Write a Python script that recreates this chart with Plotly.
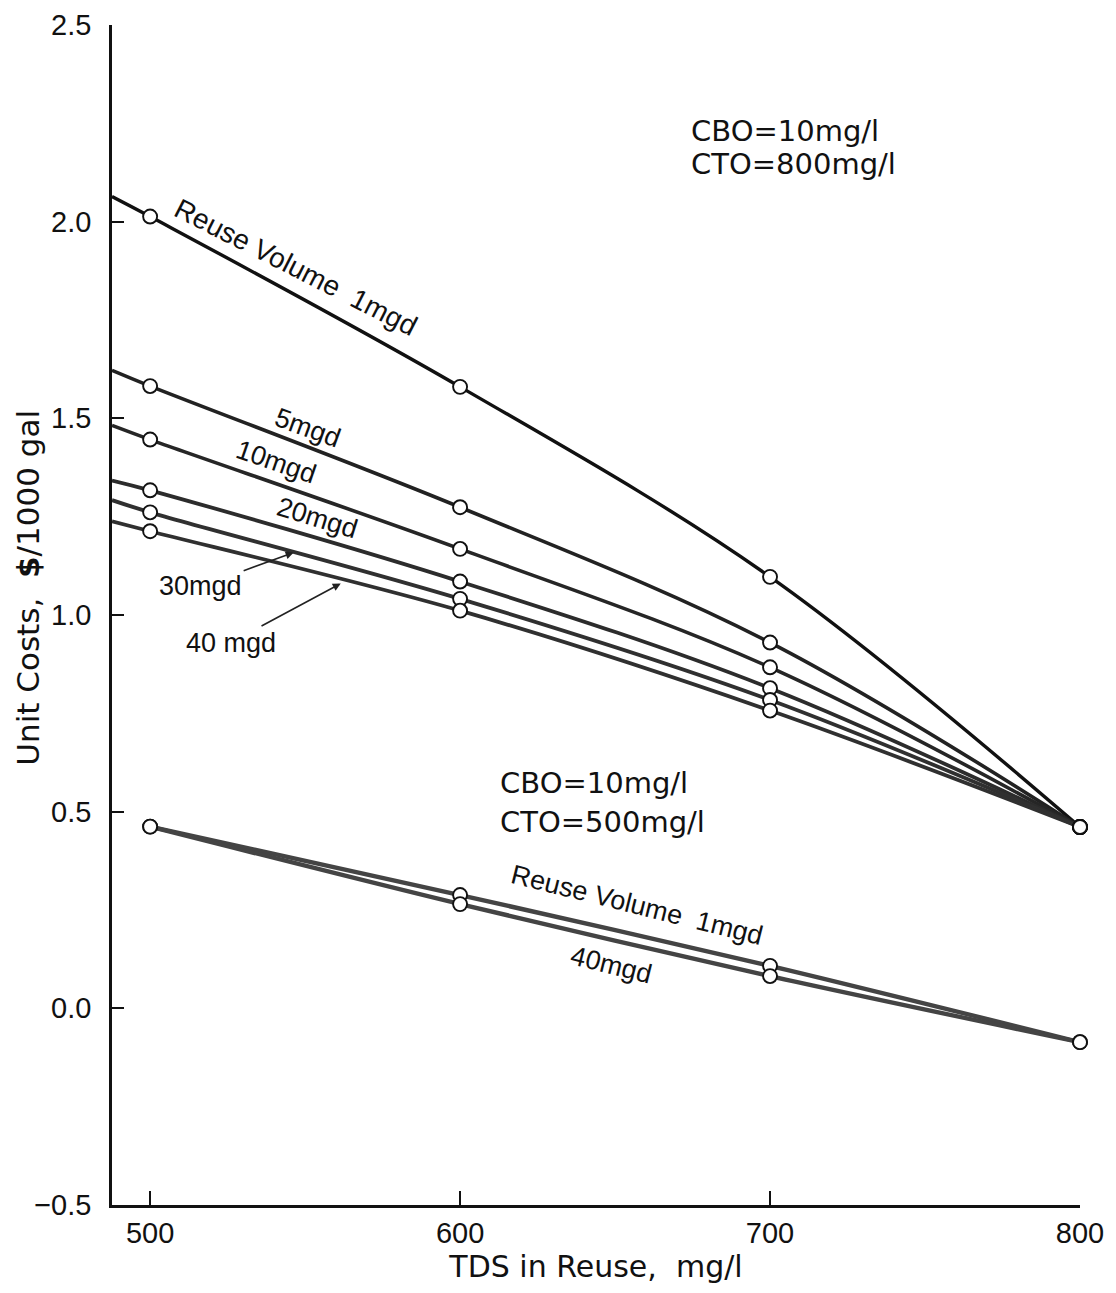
import plotly.graph_objects as go

# ---------------- data ----------------
tds = [500, 600, 700, 800]
axis_start_tds = 487.7          # left edge of the x axis, where the upper curves start

# CBO = 10 mg/l, CTO = 800 mg/l
cto800_1mgd = [2.013, 1.580, 1.097, 0.461]
cto800_5mgd = [1.582, 1.274, 0.930, 0.461]
cto800_10mgd = [1.446, 1.168, 0.867, 0.461]
cto800_20mgd = [1.317, 1.085, 0.814, 0.461]
cto800_30mgd = [1.261, 1.041, 0.784, 0.461]
cto800_40mgd = [1.213, 1.011, 0.757, 0.461]
# values of the upper curves at the left edge of the axis
cto800_edge = [2.064, 1.622, 1.482, 1.342, 1.292, 1.238]

# CBO = 10 mg/l, CTO = 500 mg/l
cto500_1mgd = [0.462, 0.288, 0.108, -0.086]
cto500_40mgd = [0.462, 0.265, 0.082, -0.086]

x_ticks = [500, 600, 700, 800]
y_ticks = [-0.5, 0.0, 0.5, 1.0, 1.5, 2.0, 2.5]
y_tick_labels = ["\u22120.5", "0.0", "0.5", "1.0", "1.5", "2.0", "2.5"]

FONT = "Liberation Sans, Arial, sans-serif"
WIDE = "DejaVu Sans, Liberation Sans, sans-serif"

fig = go.Figure()

upper = [cto800_1mgd, cto800_5mgd, cto800_10mgd, cto800_20mgd, cto800_30mgd, cto800_40mgd]
upper_colors = ["#111111", "#222222", "#262626", "#2c2c2c", "#303030", "#303030"]
upper_widths = [3.4, 3.6, 3.6, 3.8, 3.8, 3.8]

for vals, edge, col, w in zip(upper, cto800_edge, upper_colors, upper_widths):
    fig.add_trace(go.Scatter(
        x=[axis_start_tds] + tds, y=[edge] + vals, mode="lines",
        line=dict(color=col, width=w, shape="spline", smoothing=1.0),
        hoverinfo="skip", showlegend=False, cliponaxis=False))

for vals in [cto500_1mgd, cto500_40mgd]:
    fig.add_trace(go.Scatter(
        x=tds, y=vals, mode="lines",
        line=dict(color="#444444", width=4.4, shape="spline", smoothing=0.8),
        hoverinfo="skip", showlegend=False, cliponaxis=False))

for vals in upper + [cto500_1mgd, cto500_40mgd]:
    fig.add_trace(go.Scatter(
        x=tds, y=vals, mode="markers",
        marker=dict(symbol="circle", size=14, color="white",
                    line=dict(color="#111111", width=1.9)),
        hoverinfo="skip", showlegend=False, cliponaxis=False))

def label(text, x, y, angle=0, size=26, xanchor="center", family=FONT):
    fig.add_annotation(x=x, y=y, xref="x", yref="y", text=text, showarrow=False,
                       textangle=angle, xanchor=xanchor, yanchor="middle",
                       font=dict(family=family, size=size, color="#111111"))

# curve labels, upper family
label("Reuse Volume  1mgd", 547.2, 1.884, angle=27, size=28)
label("5mgd", 551.0, 1.476, angle=20, size=27)
label("10mgd", 540.8, 1.390, angle=19, size=27)
label("20mgd", 554.0, 1.247, angle=17, size=27)

# leader arrows for 30 and 40 mgd
fig.add_annotation(x=546.3, y=1.159, xref="x", yref="y", text="30mgd",
                   showarrow=True, ax=-93, ay=34, arrowhead=2, arrowsize=1,
                   arrowwidth=1.6, arrowcolor="#222222",
                   font=dict(family=FONT, size=27, color="#111111"))
fig.add_annotation(x=561.5, y=1.080, xref="x", yref="y", text="40 mgd",
                   showarrow=True, ax=-110, ay=59, arrowhead=2, arrowsize=1,
                   arrowwidth=1.6, arrowcolor="#222222",
                   font=dict(family=FONT, size=27, color="#111111"))

# condition boxes
label("CBO=10mg/l", 673.8, 2.230, size=29, xanchor="left", family=WIDE)
label("CTO=800mg/l", 673.8, 2.146, size=29, xanchor="left", family=WIDE)
label("CBO=10mg/l", 612.3, 0.573, size=29, xanchor="left", family=WIDE)
label("CTO=500mg/l", 612.3, 0.474, size=29, xanchor="left", family=WIDE)

# curve labels, lower family
label("Reuse Volume  1mgd", 657.0, 0.263, angle=14, size=27)
label("40mgd", 648.9, 0.110, angle=14, size=27)

# y-axis title (placed as paper annotation to match reference position)
fig.add_annotation(x=-0.087, y=0.523, xref="paper", yref="paper",
                   text="Unit Costs,  <b>$</b>/1000 gal", showarrow=False,
                   textangle=-90, xanchor="center", yanchor="middle",
                   font=dict(family=WIDE, size=31, color="#111111"))

fig.update_layout(
    width=1116, height=1293,
    margin=dict(l=112, r=36, t=25, b=88, autoexpand=False),
    paper_bgcolor="white", plot_bgcolor="white",
    font=dict(family=FONT, color="#111111"),
    showlegend=False,
)
fig.update_xaxes(
    range=[axis_start_tds, 800], tickvals=x_ticks, ticktext=[str(v) for v in x_ticks],
    ticks="inside", ticklen=14, tickwidth=1.8, tickcolor="#111111",
    showline=True, linewidth=2.6, linecolor="#111111", mirror=False,
    showgrid=False, zeroline=False,
    tickfont=dict(family=FONT, size=29, color="#111111"),
    title=dict(text="TDS in Reuse,  mg/l", standoff=8,
               font=dict(family=WIDE, size=30, color="#111111")),
)
fig.update_yaxes(
    range=[-0.5, 2.5], tickvals=y_ticks, ticktext=y_tick_labels,
    ticks="inside", ticklen=12, tickwidth=1.8, tickcolor="#111111",
    showline=True, linewidth=2.6, linecolor="#111111", mirror=False,
    showgrid=False, zeroline=False, ticklabelstandoff=12,
    tickfont=dict(family=FONT, size=29, color="#111111"),
)

fig.write_html("out.html")
